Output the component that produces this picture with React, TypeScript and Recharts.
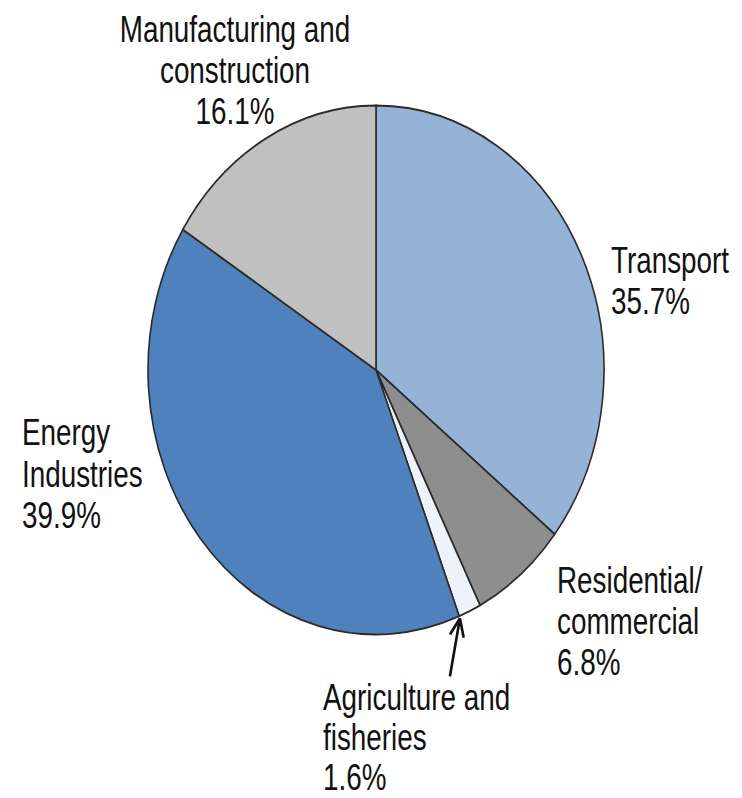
import React from "react";
import { PieChart, Pie, Cell } from "recharts";

const categories = [
  "Transport",
  "Residential/commercial",
  "Agriculture and fisheries",
  "Energy Industries",
  "Manufacturing and construction",
];
const shares = [35.7, 6.8, 1.6, 39.9, 16.1];
const labelLines = [
  ["Transport"],
  ["Residential/", "commercial"],
  ["Agriculture and", "fisheries"],
  ["Energy", "Industries"],
  ["Manufacturing and", "construction"],
];
const colors = ["#95B3D7", "#8E8E8E", "#EEF3FA", "#4F81BD", "#C0C0C0"];

const data = categories.map((name, i) => ({ name, value: shares[i] }));

const W = 742;
const H = 688;
const SY = 798 / 688;
const CX = 376;
const CY = 319;
const R = 228;
const FONT = "'Liberation Sans', Arial, sans-serif";
const FS = 32;
const LH = 35.5;
const SX = 0.87;

// label placement relative to pie centre (unscaled space)
const labelLayout = [
  { dx: 235, dy: -84, anchor: "start" },
  { dx: 181, dy: 192, anchor: "start" },
  { dx: -53, dy: 293, anchor: "start", lh: 34.5 },
  { dx: -354, dy: 65, anchor: "start" },
  { dx: -141, dy: -283, anchor: "middle" },
];

const RAD = Math.PI / 180;

function renderLabel(props: any) {
  const { cx, cy, index, value, outerRadius } = props;
  const lay: any = labelLayout[index];
  const x = cx + lay.dx;
  const y = cy + lay.dy;
  const lh = lay.lh || LH;
  const lines = [...labelLines[index], `${value.toFixed(1)}%`];
  let arrow = null;
  if (index === 2) {
    const ang = props.endAngle !== undefined ? props.endAngle : props.midAngle - 2.9;
    const tx = cx + (outerRadius + 2) * Math.cos(-ang * RAD);
    const ty = cy + (outerRadius + 2) * Math.sin(-ang * RAD);
    const sx = tx - 10;
    const sy = ty + 50;
    const dir = Math.atan2(ty - sy, tx - sx);
    const hl = 17;
    const a1 = dir + Math.PI - 0.42;
    const a2 = dir + Math.PI + 0.42;
    arrow = (
      <g stroke="#111" strokeWidth={2.6} fill="none">
        <line x1={sx} y1={sy} x2={tx} y2={ty} />
        <line x1={tx} y1={ty} x2={tx + hl * Math.cos(a1)} y2={ty + hl * Math.sin(a1)} />
        <line x1={tx} y1={ty} x2={tx + hl * Math.cos(a2)} y2={ty + hl * Math.sin(a2)} />
      </g>
    );
  }
  return (
    <g>
      {arrow}
      <text
        x={x}
        y={y}
        textAnchor={lay.anchor}
        fontFamily={FONT}
        fontSize={FS}
        fill="#111"
        stroke="none"
        transform={`translate(${x},0) scale(${SX},1) translate(${-x},0)`}
      >
        {lines.map((l, i) => (
          <tspan key={i} x={x} dy={i === 0 ? 0 : lh}>
            {l}
          </tspan>
        ))}
      </text>
    </g>
  );
}

export default function App() {
  return (
    <div
      style={{
        position: "absolute",
        left: 0,
        top: 0,
        width: W,
        height: 798,
        overflow: "hidden",
        background: "#fff",
      }}
    >
      <div
        style={{
          width: W,
          height: H,
          transform: `scale(1, ${SY})`,
          transformOrigin: "0 0",
        }}
      >
        <PieChart width={W} height={H} margin={{ top: 0, right: 0, bottom: 0, left: 0 }}>
          <Pie
            data={data}
            dataKey="value"
            nameKey="name"
            cx={CX}
            cy={CY}
            outerRadius={R}
            startAngle={90}
            endAngle={-270}
            stroke="#2b2b2b"
            strokeWidth={1.6}
            label={renderLabel}
            labelLine={false}
            isAnimationActive={false}
          >
            {data.map((d, i) => (
              <Cell key={d.name} fill={colors[i]} />
            ))}
          </Pie>
        </PieChart>
      </div>
    </div>
  );
}
